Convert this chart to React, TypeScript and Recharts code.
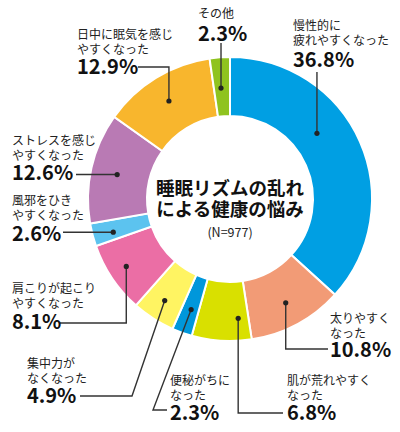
import { Cell, Pie, PieChart } from "recharts";

const CATEGORIES = [
  "慢性的に\n疲れやすくなった",
  "太りやすく\nなった",
  "肌が荒れやすく\nなった",
  "便秘がちに\nなった",
  "集中力が\nなくなった",
  "肩こりが起こり\nやすくなった",
  "風邪をひき\nやすくなった",
  "ストレスを感じ\nやすくなった",
  "日中に眠気を感じ\nやすくなった",
  "その他",
];
const VALUES = [36.8, 10.8, 6.8, 2.3, 4.9, 8.1, 2.6, 12.6, 12.9, 2.3];
const COLORS = [
  "#009fe3",
  "#f29b76",
  "#d9e000",
  "#0097db",
  "#fff462",
  "#eb6ea5",
  "#5cc3ef",
  "#b97ab4",
  "#f8b62d",
  "#8fc31f",
];
const TITLE = ["睡眠リズムの乱れ", "による健康の悩み"];
const SAMPLE = "(N=977)";

// 注釈の配置（t: 扇形内の角度比, rr: 半径比, x/y: 文字, py: 数値の基線, 引き出し線）
type Leader = { ey?: number; ex?: number; via?: [number, number] };
const LABEL_LAYOUT: { t: number; rr: number; x: number; y: number; py: number; leader: Leader }[] = [
  { t: 0.4, rr: 0.44, x: 293, y: 30, py: 67, leader: { ey: 72 } },
  { t: 0.5, rr: 0.59, x: 330, y: 323, py: 357, leader: { ey: 349, ex: 328 } },
  { t: 0.2, rr: 0.62, x: 287, y: 385, py: 420, leader: { ey: 413, ex: 283 } },
  { t: 0.45, rr: 0.58, x: 170, y: 385, py: 420, leader: { via: [153, 410], ex: 167 } },
  { t: 0.5, rr: 0.64, x: 27, y: 368, py: 403, leader: { via: [132, 396], ex: 80 } },
  { t: 0.53, rr: 0.69, x: 12, y: 293, py: 329, leader: { ey: 323, ex: 60 } },
  { t: 0.37, rr: 0.65, x: 12, y: 205, py: 241, leader: { ex: 63 } },
  { t: 0.49, rr: 0.55, x: 12, y: 145, py: 180, leader: { ex: 76 } },
  { t: 0.49, rr: 0.55, x: 77, y: 39, py: 74, leader: { ey: 67, ex: 138 } },
  { t: 0.44, rr: 0.48, x: 198, y: 18, py: 41, leader: { ey: 43 } },
];

const FONT = '"Noto Sans CJK JP", "Noto Sans", sans-serif';
const RAD = Math.PI / 180;

const data = CATEGORIES.map((name, i) => ({ name, value: VALUES[i] }));

function renderLabel(props: any) {
  const { cx, cy, innerRadius, outerRadius, startAngle, endAngle, index, value } = props;
  const L = LABEL_LAYOUT[index];
  if (!L) return null;
  const a = startAngle + (endAngle - startAngle) * L.t;
  const r = innerRadius + (outerRadius - innerRadius) * L.rr;
  const dx = cx + r * Math.cos(-a * RAD);
  const dy = cy + r * Math.sin(-a * RAD);
  const p1 = L.leader.via ?? [dx, L.leader.ey ?? dy];
  const p2 = [L.leader.ex ?? p1[0], p1[1]];
  const lines = CATEGORIES[index].split("\n");
  return (
    <g>
      <polyline
        points={`${dx},${dy} ${p1[0]},${p1[1]} ${p2[0]},${p2[1]}`}
        fill="none"
        stroke="#333"
        strokeWidth={1.4}
      />
      <circle cx={dx} cy={dy} r={2.6} fill="#222" />
      <text fill="#222" fontFamily={FONT}>
        {lines.map((s, i) => (
          <tspan key={i} x={L.x} y={L.y + i * 15} fontSize={12}>
            {s}
          </tspan>
        ))}
        <tspan x={L.x} y={L.py} fontSize={20} fontWeight={700} fill="#111">
          {`${Number(value).toFixed(1)}%`}
        </tspan>
      </text>
    </g>
  );
}

export default function App() {
  return (
    <div style={{ position: "absolute", left: 0, top: 0, width: 400, height: 432, background: "#fff" }}>
      <PieChart width={400} height={432} margin={{ top: 0, right: 0, bottom: 0, left: 0 }}>
        <Pie
          data={data}
          dataKey="value"
          nameKey="name"
          cx={230}
          cy={199}
          innerRadius={83}
          outerRadius={142}
          startAngle={90}
          endAngle={-270}
          stroke="#fff"
          strokeWidth={2}
          label={renderLabel}
          labelLine={false}
          isAnimationActive={false}
        >
          {data.map((d, i) => (
            <Cell key={d.name} fill={COLORS[i]} />
          ))}
        </Pie>
      </PieChart>
      <svg
        width={400}
        height={432}
        style={{ position: "absolute", left: 0, top: 0, pointerEvents: "none" }}
      >
        <text fill="#111" fontFamily={FONT} textAnchor="middle">
          {TITLE.map((s, i) => (
            <tspan key={s} x={230} y={195 + i * 21} fontSize={18.5} fontWeight={700}>
              {s}
            </tspan>
          ))}
          <tspan x={230} y={237} fontSize={12.5} fill="#222">
            {SAMPLE}
          </tspan>
        </text>
      </svg>
    </div>
  );
}
